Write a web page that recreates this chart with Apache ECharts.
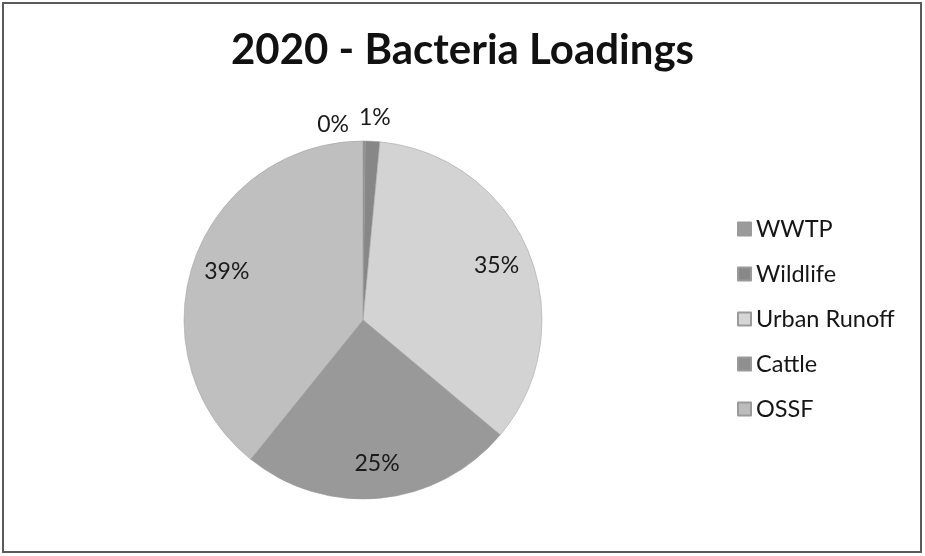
<!DOCTYPE html>
<html>
<head>
<meta charset="utf-8">
<style>
  html, body { margin: 0; padding: 0; background: #ffffff; }
  #chart { width: 925px; height: 556px; }
</style>
<script src="https://cdn.jsdelivr.net/npm/echarts@6/dist/echarts.min.js"></script>
</head>
<body>
<div id="chart"></div>
<script>
// 2020 bacteria loadings by source (percent share)
const categories = ['WWTP', 'Wildlife', 'Urban Runoff', 'Cattle', 'OSSF'];
const loadings = [0.2, 1.3, 34.6, 24.7, 39.2];
const sliceColors = ['#8e8e8e', '#878787', '#d3d3d3', '#999999', '#bfbfbf'];
const legendColors = ['#9a9a9a', '#888888', '#d6d6d6', '#8f8f8f', '#bcbcbc'];

const FONT = 'Lato, "Open Sans", "Liberation Sans", sans-serif';
const CENTER = [363, 320];
const R = 179;

// small slices get their percentage placed above the rim
const smallLabelOffsets = { 'WWTP': [-52, -8], 'Wildlife': [-19, -16] };

const pieData = categories.map((name, i) => ({
  name,
  value: loadings[i],
  itemStyle: { color: sliceColors[i] }
}));

const labelData = categories.map((name, i) => {
  const small = loadings[i] < 5;
  return {
    name,
    value: loadings[i],
    label: small
      ? { position: 'outside', offset: smallLabelOffsets[name] }
      : { position: 'inside' }
  };
});

const chart = echarts.init(document.getElementById('chart'), null, { renderer: 'canvas' });
chart.setOption({
  backgroundColor: '#ffffff',
  animation: false,
  title: {
    text: '2020 - Bacteria Loadings',
    left: 'center',
    top: 24,
    textStyle: { fontFamily: FONT, fontWeight: 'bold', fontSize: 42, color: '#111111' }
  },
  legend: {
    orient: 'vertical',
    left: 732,
    top: 212,
    itemWidth: 13,
    itemHeight: 13,
    itemGap: 21,
    icon: 'rect',
    selectedMode: false,
    data: categories.map((name, i) => ({ name, itemStyle: { color: legendColors[i] } })),
    textStyle: { fontFamily: FONT, fontSize: 23.5, color: '#151515', padding: [0, 0, 0, 0] }
  },
  graphic: [{
    type: 'rect',
    shape: { x: 3, y: 3, width: 918, height: 549 },
    style: { fill: 'none', stroke: '#5a5a5a', lineWidth: 2 },
    silent: true
  }],
  series: [
    {
      name: 'slices',
      type: 'pie',
      center: CENTER,
      radius: [0, R],
      startAngle: 90,
      clockwise: true,
      avoidLabelOverlap: false,
      label: { show: false },
      labelLine: { show: false },
      itemStyle: { borderColor: '#9a9a9a', borderWidth: 0.5 },
      emphasis: { disabled: true },
      data: pieData
    },
    {
      // transparent ring carrying the percentage labels near the rim
      name: 'labels',
      type: 'pie',
      center: CENTER,
      radius: [R * 0.58, R],
      startAngle: 90,
      clockwise: true,
      silent: true,
      avoidLabelOverlap: false,
      itemStyle: { color: 'rgba(0,0,0,0)' },
      labelLine: { show: false, length: 8, length2: 0 },
      label: {
        show: true,
        formatter: p => Math.round(p.percent) + '%',
        fontFamily: FONT,
        fontSize: 23,
        color: '#1a1a1a'
      },
      emphasis: { disabled: true },
      data: labelData
    }
  ]
});
</script>
</body>
</html>
